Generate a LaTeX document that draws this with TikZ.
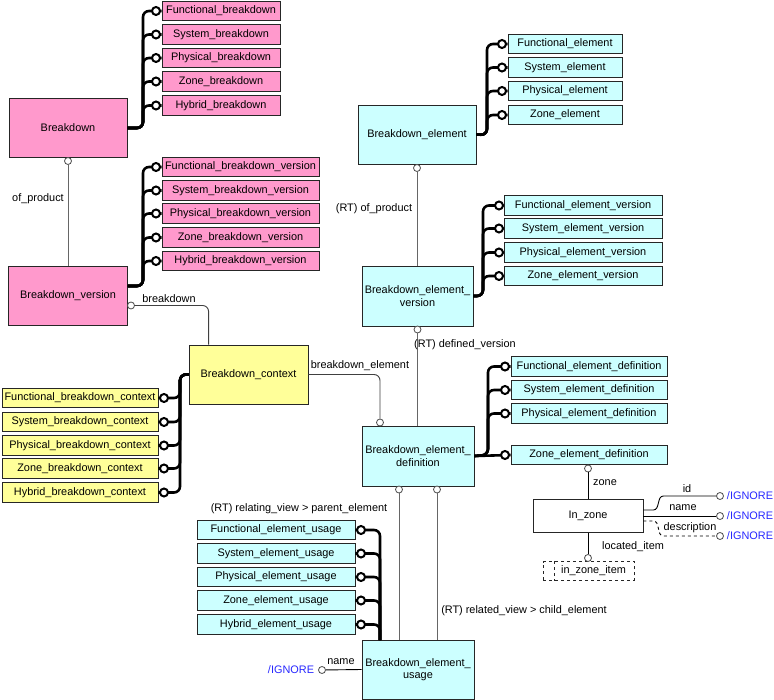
\documentclass[tikz,border=0pt]{standalone}
\usepackage{fontspec}
\setmainfont{Liberation Sans}
\definecolor{bdpink}{RGB}{255,153,204}
\definecolor{ctxyellow}{RGB}{255,255,153}
\definecolor{elcyan}{RGB}{204,255,255}
\definecolor{ignblue}{RGB}{40,40,255}
\begin{document}
\begin{tikzpicture}[x=1pt,y=-1pt,
  font=\fontsize{10.9}{12.5}\selectfont,
  entity/.style={draw=black!85, line width=0.8pt, align=center, inner sep=1pt},
  sub/.style={entity, minimum height=19.5},
  bus/.style={line width=2.6pt, rounded corners=6pt},
  endring/.style={circle, draw=black, line width=2pt, fill=white, inner sep=0pt, minimum size=8},
  dot/.style={circle, draw=black!70, line width=0.8pt, fill=white, inner sep=0pt, minimum size=7},
  link/.style={draw=black!60, line width=0.9pt, rounded corners=6pt},
  lbl/.style={inner sep=1pt},
  ign/.style={text=ignblue, inner sep=1pt}]
\path[use as bounding box, fill=white] (0,0) rectangle (774,700);
% breakdown
\node[entity, fill=bdpink, minimum width=118, minimum height=59] (bd) at (68,128) {Breakdown};
\node[sub, fill=bdpink, minimum width=118] (fbd) at (221,11) {Functional\_breakdown};
\node[sub, fill=bdpink, minimum width=118] (sbd) at (221,34.5) {System\_breakdown};
\node[sub, fill=bdpink, minimum width=118] (pbd) at (221,58) {Physical\_breakdown};
\node[sub, fill=bdpink, minimum width=118] (zbd) at (221,81.5) {Zone\_breakdown};
\node[sub, fill=bdpink, minimum width=118] (hbd) at (221,105.5) {Hybrid\_breakdown};
\coordinate (bd-bus) at (143,128);
\draw[bus](bd.east) -- (bd-bus) |- (fbd.west);
\draw[bus](bd.east) -- (bd-bus) |- (sbd.west);
\draw[bus](bd.east) -- (bd-bus) |- (pbd.west);
\draw[bus](bd.east) -- (bd-bus) |- (zbd.west);
\draw[bus](bd.east) -- (bd-bus) |- (hbd.west);
\node[endring] (fbd-o) at (156,11){};
\node[endring] (sbd-o) at (156,34.5){};
\node[endring] (pbd-o) at (156,58){};
\node[endring] (zbd-o) at (156,81.5){};
\node[endring] (hbd-o) at (156,105.5){};
% breakdown version
\node[entity, fill=bdpink, minimum width=119, minimum height=59] (bdv) at (68,296) {Breakdown\_version};
\node[sub, fill=bdpink, minimum width=157] (fbv) at (240.5,167) {Functional\_breakdown\_version};
\node[sub, fill=bdpink, minimum width=157] (sbv) at (240.5,190.5) {System\_breakdown\_version};
\node[sub, fill=bdpink, minimum width=157] (pbv) at (240.5,213.5) {Physical\_breakdown\_version};
\node[sub, fill=bdpink, minimum width=157] (zbv) at (240.5,237.5) {Zone\_breakdown\_version};
\node[sub, fill=bdpink, minimum width=157] (hbv) at (240.5,261) {Hybrid\_breakdown\_version};
\coordinate (bdv-bus) at (143,286);
\draw[bus]([yshift=10pt]bdv.east) -- (bdv-bus) |- (fbv.west);
\draw[bus]([yshift=10pt]bdv.east) -- (bdv-bus) |- (sbv.west);
\draw[bus]([yshift=10pt]bdv.east) -- (bdv-bus) |- (pbv.west);
\draw[bus]([yshift=10pt]bdv.east) -- (bdv-bus) |- (zbv.west);
\draw[bus]([yshift=10pt]bdv.east) -- (bdv-bus) |- (hbv.west);
\node[endring] (fbv-o) at (156,167){};
\node[endring] (sbv-o) at (156,190.5){};
\node[endring] (pbv-o) at (156,213.5){};
\node[endring] (zbv-o) at (156,237.5){};
\node[endring] (hbv-o) at (156,261){};
\node[dot] (bd-of) at (68,161){};
\draw[link](bd-of) -- (bdv.north);
\node[lbl] (of-lbl) at (38,199) {of\_product};
% context
\node[entity, fill=ctxyellow, minimum width=119, minimum height=59] (bc) at (248.5,374.5) {Breakdown\_context};
\node[sub, fill=ctxyellow, minimum width=156] (fbc) at (80,398) {Functional\_breakdown\_context};
\node[sub, fill=ctxyellow, minimum width=156] (sbc) at (80,422) {System\_breakdown\_context};
\node[sub, fill=ctxyellow, minimum width=156] (pbc) at (80,445.5) {Physical\_breakdown\_context};
\node[sub, fill=ctxyellow, minimum width=156] (zbc) at (80,468.5) {Zone\_breakdown\_context};
\node[sub, fill=ctxyellow, minimum width=156] (hbc) at (80,492.5) {Hybrid\_breakdown\_context};
\coordinate (bc-bus) at (180,374.5);
\draw[bus](bc.west) -- (bc-bus) |- (fbc.east);
\draw[bus](bc.west) -- (bc-bus) |- (sbc.east);
\draw[bus](bc.west) -- (bc-bus) |- (pbc.east);
\draw[bus](bc.west) -- (bc-bus) |- (zbc.east);
\draw[bus](bc.west) -- (bc-bus) |- (hbc.east);
\node[endring] (fbc-o) at (164,398){};
\node[endring] (sbc-o) at (164,422){};
\node[endring] (pbc-o) at (164,445.5){};
\node[endring] (zbc-o) at (164,468.5){};
\node[endring] (hbc-o) at (164,492.5){};
\node[dot] (bdv-bk) at (131,305.5){};
\draw[link, draw=black!75](bdv-bk) -| ([xshift=20pt]bc.north west);
\node[lbl] (bk-lbl) at (169,299) {breakdown};
% element
\node[entity, fill=elcyan, minimum width=118, minimum height=59] (be) at (417,134.5) {Breakdown\_element};
\node[sub, fill=elcyan, minimum width=114] (fe) at (565,44) {Functional\_element};
\node[sub, fill=elcyan, minimum width=114] (se) at (565,67.5) {System\_element};
\node[sub, fill=elcyan, minimum width=114] (pe) at (565,91) {Physical\_element};
\node[sub, fill=elcyan, minimum width=114] (ze) at (565,115) {Zone\_element};
\coordinate (be-bus) at (487,135);
\draw[bus](be.east) -- (be-bus) |- (fe.west);
\draw[bus](be.east) -- (be-bus) |- (se.west);
\draw[bus](be.east) -- (be-bus) |- (pe.west);
\draw[bus](be.east) -- (be-bus) |- (ze.west);
\node[endring] (fe-o) at (502,44){};
\node[endring] (se-o) at (502,67.5){};
\node[endring] (pe-o) at (502,91){};
\node[endring] (ze-o) at (502,115){};
% element version
\node[entity, fill=elcyan, minimum width=111, minimum height=60] (bev) at (417.5,296) {Breakdown\_element\_\\version};
\node[sub, fill=elcyan, minimum width=158] (fev) at (583,205.5) {Functional\_element\_version};
\node[sub, fill=elcyan, minimum width=158] (sev) at (583,228.5) {System\_element\_version};
\node[sub, fill=elcyan, minimum width=158] (pev) at (583,252.5) {Physical\_element\_version};
\node[sub, fill=elcyan, minimum width=158] (zev) at (583,276) {Zone\_element\_version};
\coordinate (bev-bus) at (483,296);
\draw[bus](bev.east) -- (bev-bus) |- (fev.west);
\draw[bus](bev.east) -- (bev-bus) |- (sev.west);
\draw[bus](bev.east) -- (bev-bus) |- (pev.west);
\draw[bus](bev.east) -- (bev-bus) |- (zev.west);
\node[endring] (fev-o) at (499,205.5){};
\node[endring] (sev-o) at (499,228.5){};
\node[endring] (pev-o) at (499,252.5){};
\node[endring] (zev-o) at (499,276){};
\node[dot] (be-of) at (417,168){};
\draw[link](be-of) -- (be-of |- bev.north);
\node[lbl] (rof-lbl) at (374,209) {(RT) of\_product};
% element definition
\node[entity, fill=elcyan, minimum width=112, minimum height=60] (bed) at (418,456) {Breakdown\_element\_\\definition};
\node[sub, fill=elcyan, minimum width=156] (fed) at (589,366.5) {Functional\_element\_definition};
\node[sub, fill=elcyan, minimum width=156] (sed) at (589,390) {System\_element\_definition};
\node[sub, fill=elcyan, minimum width=156] (ped) at (589,413.5) {Physical\_element\_definition};
\node[sub, fill=elcyan, minimum width=156] (zed) at (589,455) {Zone\_element\_definition};
\coordinate (bed-bus) at (488,455);
\draw[bus](bed.east) -- (bed-bus) |- (fed.west);
\draw[bus](bed.east) -- (bed-bus) |- (sed.west);
\draw[bus](bed.east) -- (bed-bus) |- (ped.west);
\draw[bus](bed.east) -- (zed.west);
\node[endring] (fed-o) at (505,366.5){};
\node[endring] (sed-o) at (505,390){};
\node[endring] (ped-o) at (505,413.5){};
\node[endring] (zed-o) at (505,455){};
\node[dot] (bev-dv) at (417.5,329.5){};
\draw[link](bev-dv) -- (bev-dv |- bed.north);
\node[lbl] (dv-lbl) at (465,345) {(RT) defined\_version};
\node[dot] (bed-bc) at (380,422.5){};
\draw[link, draw=black!75](bc.east) -| (bed-bc);
\node[lbl] (bel-lbl) at (360,366) {breakdown\_element};
% element usage
\node[entity, fill=elcyan, minimum width=112, minimum height=59] (beu) at (418,669.5) {Breakdown\_element\_\\usage};
\node[sub, fill=elcyan, minimum width=158] (feu) at (276,530) {Functional\_element\_usage};
\node[sub, fill=elcyan, minimum width=158] (seu) at (276,553.5) {System\_element\_usage};
\node[sub, fill=elcyan, minimum width=158] (peu) at (276,577) {Physical\_element\_usage};
\node[sub, fill=elcyan, minimum width=158] (zeu) at (276,600.5) {Zone\_element\_usage};
\node[sub, fill=elcyan, minimum width=158] (heu) at (276,624.5) {Hybrid\_element\_usage};
\coordinate (beu-bus) at (380,640);
\draw[bus](beu-bus) |- (feu.east);
\draw[bus](beu-bus) |- (seu.east);
\draw[bus](beu-bus) |- (peu.east);
\draw[bus](beu-bus) |- (zeu.east);
\draw[bus](beu-bus) |- (heu.east);
\node[endring] (feu-o) at (361,530){};
\node[endring] (seu-o) at (361,553.5){};
\node[endring] (peu-o) at (361,577){};
\node[endring] (zeu-o) at (361,600.5){};
\node[endring] (heu-o) at (361,624.5){};
\node[dot] (bed-pe) at (399,489.5){};
\node[dot] (bed-ce) at (437,489.5){};
\draw[link](bed-pe) -- (bed-pe |- beu.north);
\draw[link](bed-ce) -- (bed-ce |- beu.north);
\node[lbl] (pe-lbl) at (299,509) {(RT) relating\_view > parent\_element};
\node[lbl] (ce-lbl) at (524,611) {(RT) related\_view > child\_element};
\node[dot] (beu-nm) at (322,670){};
\draw[link, draw=black](beu.west) -- (beu-nm);
\node[lbl] (unm-lbl) at (341,662) {name};
\node[ign] (unm-ign) at (291,670) {/IGNORE};
% in zone
\node[entity, fill=white, minimum width=110, minimum height=33] (iz) at (588,516) {In\_zone};
\node[dot] (zed-z) at (588,468.5){};
\draw[link, draw=black](zed-z) -- (iz.north);
\node[lbl] (z-lbl) at (605,483) {zone};
\node[entity, dashed, minimum width=91, minimum height=18.5] (izi) at (588.5,571) {\hspace{10pt}in\_zone\_item};
\draw[dashed, black!85, line width=0.8pt]([xshift=12pt]izi.north west) -- ([xshift=12pt]izi.south west);
\node[dot] (iz-li) at (588,558){};
\draw[link, draw=black](iz.south) -- (iz-li);
\node[lbl] (li-lbl) at (633,547) {located\_item};
\node[dot] (id-o) at (720,496){};
\node[dot] (name-o) at (720,516){};
\node[dot] (desc-o) at (720,536){};
\draw[line width=0.9pt]([yshift=6pt]iz.east) -- ++(10,0) to[out=0,in=180] ++(10,-14) -- (id-o);
\draw[line width=0.9pt](iz.east) -- (name-o);
\draw[line width=0.9pt, dashed]([yshift=-5pt]iz.east) -- ++(10,0) to[out=0,in=180] ++(10,15) -- (desc-o);
\node[lbl] (id-lbl) at (687,489) {id};
\node[lbl] (nm-lbl) at (683,508) {name};
\node[lbl] (ds-lbl) at (690,528) {description};
\node[ign] (id-ign) at (750,496) {/IGNORE};
\node[ign] (nm-ign) at (750,516) {/IGNORE};
\node[ign] (ds-ign) at (750,536) {/IGNORE};
\end{tikzpicture}
\end{document}
